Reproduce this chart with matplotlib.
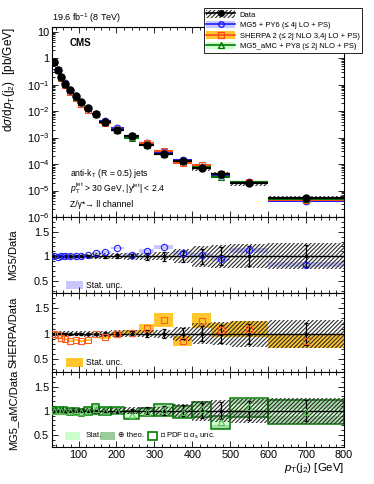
import numpy as np
import matplotlib
matplotlib.use("Agg")
import matplotlib.pyplot as plt
from matplotlib.patches import Patch, Rectangle
from matplotlib.lines import Line2D
from matplotlib.ticker import MultipleLocator, FixedLocator, FixedFormatter, LogLocator, NullFormatter

plt.rcParams['font.family'] = ['Liberation Sans', 'DejaVu Sans']
plt.rcParams['mathtext.fontset'] = 'custom'
plt.rcParams['mathtext.rm'] = 'Liberation Sans'
plt.rcParams['mathtext.it'] = 'Liberation Sans:italic'
plt.rcParams['mathtext.bf'] = 'Liberation Sans:bold'
plt.rcParams['hatch.linewidth'] = 0.8

# ---- data ----
edges = [30, 40, 50, 60, 70, 85, 100, 115, 135, 155, 185, 220, 260, 300, 350, 400, 450, 500, 600, 800]
xsec = [0.73, 0.355, 0.20, 0.11, 0.062, 0.036, 0.022, 0.0126, 0.0076, 0.0039, 0.0020, 0.0011,
        5.4e-4, 2.4e-4, 1.3e-4, 7.2e-5, 4.1e-5, 1.9e-5, 5.0e-6]
data_sys = [0.05, 0.05, 0.05, 0.05, 0.05, 0.05, 0.05, 0.055, 0.06, 0.06, 0.065, 0.07,
            0.07, 0.08, 0.14, 0.21, 0.23, 0.25, 0.27]
data_stat = [0.01, 0.01, 0.01, 0.01, 0.01, 0.012, 0.015, 0.02, 0.025, 0.03, 0.04, 0.045,
             0.07, 0.09, 0.11, 0.15, 0.18, 0.2, 0.22]

mg5_ratio = [1.00, 0.99, 1.00, 1.01, 1.01, 1.01, 1.01, 1.02, 1.06, 1.08, 1.17, 1.03,
             1.11, 1.18, 1.07, 1.03, 0.95, 1.12, 0.83]
mg5_stat = [0.01, 0.01, 0.01, 0.01, 0.01, 0.01, 0.012, 0.015, 0.02, 0.02, 0.025, 0.03,
            0.035, 0.04, 0.04, 0.04, 0.04, 0.045, 0.05]

sherpa_ratio = [1.00, 0.97, 0.92, 0.90, 0.86, 0.87, 0.86, 0.88, 1.00, 0.93, 1.00, 1.02,
                1.11, 1.27, 0.86, 1.26, 1.07, 1.09, 0.86]
sherpa_stat = [0.01, 0.01, 0.01, 0.015, 0.015, 0.02, 0.02, 0.02, 0.025, 0.03, 0.04, 0.045,
               0.085, 0.13, 0.1, 0.15, 0.14, 0.16, 0.14]

amc_ratio = [1.00, 1.01, 1.00, 1.00, 0.99, 0.98, 0.97, 1.00, 1.03, 1.00, 1.00, 0.91,
             0.97, 1.01, 0.97, 1.03, 0.76, 1.07, 0.97]
amc_tot = [0.07, 0.07, 0.07, 0.07, 0.07, 0.07, 0.07, 0.08, 0.1, 0.085, 0.075, 0.09,
           0.085, 0.12, 0.12, 0.15, 0.14, 0.19, 0.25]
amc_stat = [0.015, 0.015, 0.015, 0.015, 0.015, 0.015, 0.02, 0.02, 0.025, 0.025, 0.03, 0.03,
            0.035, 0.04, 0.045, 0.05, 0.06, 0.06, 0.07]

edges = np.array(edges, float)
lo, hi = edges[:-1], edges[1:]
cen = 0.5 * (lo + hi)
wid = hi - lo
xsec = np.array(xsec)

BLUE, BLUE_BAND = '#1f1fff', '#c8c8ff'
ORANGE_LINE, ORANGE_BAND, SQ = '#ff4a1a', '#ffc62e', '#ff5a1f'
GREEN, GREEN_LIGHT, GREEN_THEO, GREEN_MK = '#007a00', '#ccffcc', '#a8dca8', '#55bb55'
HATCH = '////////'
HCOL = '#2a2a2a'

W, H = 374, 484
fig = plt.figure(figsize=(W / 100, H / 100), dpi=100)
L, R = 52 / W, 344 / W


def rect(top, bot):
    return [L, 1 - bot / H, R - L, (bot - top) / H]


ax0 = fig.add_axes(rect(27, 217))
ax1 = fig.add_axes(rect(217, 293))
ax2 = fig.add_axes(rect(293, 372))
ax3 = fig.add_axes(rect(372, 447))

for ax in (ax0, ax1, ax2, ax3):
    ax.set_xlim(30, 800)
    ax.tick_params(which='both', direction='in', top=True, right=True, labelsize=7.8, pad=2)
    ax.tick_params(which='major', length=4.5, width=0.6)
    ax.tick_params(which='minor', length=2.5, width=0.6)
    ax.xaxis.set_major_locator(MultipleLocator(100))
    ax.xaxis.set_minor_locator(MultipleLocator(20))
    for s in ax.spines.values():
        s.set_linewidth(0.8)

# ---- main panel ----
ax0.set_yscale('log')
ax0.set_ylim(1e-6, 15)
ax0.bar(cen, 2 * np.array(data_sys) * xsec, bottom=xsec * (1 - np.array(data_sys)), width=wid,
        fill=False, hatch=HATCH, edgecolor=HCOL, linewidth=0, zorder=1)
for ratio, col, mk in ((mg5_ratio, BLUE, 'o'), (sherpa_ratio, ORANGE_LINE, 's'), (amc_ratio, GREEN, '^')):
    pred = xsec * np.array(ratio)
    ax0.hlines(pred, lo, hi, color=col, lw=1.5, zorder=2)
    ax0.plot(cen, pred, ls='none', marker=mk, ms=4.8, mfc='none', mec=col, mew=0.8, zorder=2)
ax0.errorbar(cen, xsec, xerr=wid / 2, fmt='o', color='black', ms=5, elinewidth=1.5, zorder=3)
ax0.yaxis.set_major_locator(FixedLocator([10.0 ** k for k in range(-6, 2)]))
ax0.yaxis.set_major_formatter(FixedFormatter(['$10^{-6}$', '$10^{-5}$', '$10^{-4}$', '$10^{-3}$',
                                              '$10^{-2}$', '$10^{-1}$', '1', '10']))
ax0.yaxis.set_minor_locator(LogLocator(base=10, subs=np.arange(2, 10), numticks=20))
ax0.yaxis.set_minor_formatter(NullFormatter())
ax0.set_xticklabels([])
ax0.set_ylabel(r'd$\sigma$/d$p_{\rm T}$(j$_2$)  [pb/GeV]', fontsize=8.5, loc='top')
ax0.yaxis.set_label_coords(-0.12, 1.0)

ax0.text(0.06, 0.94, 'CMS', transform=ax0.transAxes, fontsize=7, fontweight='bold', va='top')
ax0.text(0.0, 1.012, r'19.6 fb$^{-1}$ (8 TeV)', transform=ax0.transAxes, fontsize=6.5, va='bottom')
ax0.text(0.06, 0.215, r'anti-k$_{\rm T}$ (R = 0.5) jets', transform=ax0.transAxes, fontsize=6.2)
ax0.text(0.06, 0.135, r'$p_{\rm T}^{\rm jet}$ > 30 GeV, |y$^{\rm jet}$| < 2.4',
         transform=ax0.transAxes, fontsize=6.2)
ax0.text(0.06, 0.055, 'Z/γ*→ ll channel', transform=ax0.transAxes, fontsize=6.2)


def ratio_base(ax):
    ax.set_ylim(0.25, 1.8)
    ax.yaxis.set_major_locator(FixedLocator([0.5, 1.0, 1.5]))
    ax.yaxis.set_major_formatter(FixedFormatter(['0.5', '1', '1.5']))
    ax.yaxis.set_minor_locator(MultipleLocator(0.1))


def data_overlay(ax):
    s = np.array(data_sys)
    ax.bar(cen, 2 * s, bottom=1 - s, width=wid, fill=False, hatch=HATCH,
           edgecolor=HCOL, linewidth=0, zorder=4)
    ax.axhline(1.0, color='black', lw=1.0, zorder=5)
    ax.errorbar(cen, np.ones_like(cen), yerr=data_stat, fmt='o', color='black', ms=1.5,
                elinewidth=0.9, capsize=1.5, capthick=0.9, zorder=6)


# ---- MG5 ratio ----
ratio_base(ax1)
r = np.array(mg5_ratio); e = np.array(mg5_stat)
ax1.bar(cen, 2 * e, bottom=r - e, width=wid, color=BLUE_BAND, linewidth=0, zorder=2)
data_overlay(ax1)
ax1.plot(cen, r, ls='none', marker='o', ms=4.5, mfc='none', mec=BLUE, mew=0.8, zorder=7)
ax1.set_xticklabels([])
ax1.set_ylabel('MG5/Data', fontsize=8.0)
ax1.add_patch(Rectangle((0.047, 0.05), 0.058, 0.112, transform=ax1.transAxes, color=BLUE_BAND, lw=0))
ax1.text(0.118, 0.105, 'Stat. unc.', transform=ax1.transAxes, fontsize=6.2, va='center')

# ---- SHERPA ratio ----
ratio_base(ax2)
r = np.array(sherpa_ratio); e = np.array(sherpa_stat)
ax2.bar(cen, 2 * e, bottom=r - e, width=wid, color=ORANGE_BAND, linewidth=0, zorder=2)
data_overlay(ax2)
ax2.plot(cen, r, ls='none', marker='s', ms=4.2, mfc='none', mec=SQ, mew=0.8, zorder=7)
ax2.set_xticklabels([])
ax2.set_ylabel('SHERPA/Data', fontsize=8.0)
ax2.add_patch(Rectangle((0.047, 0.063), 0.058, 0.114, transform=ax2.transAxes, color=ORANGE_BAND, lw=0))
ax2.text(0.118, 0.12, 'Stat. unc.', transform=ax2.transAxes, fontsize=6.2, va='center')

# ---- MG5_aMC ratio ----
ratio_base(ax3)
r = np.array(amc_ratio); t = np.array(amc_tot); st = np.array(amc_stat)
ax3.bar(cen, 2 * t * 0.92, bottom=r - t * 0.92, width=wid, color=GREEN_THEO, linewidth=0, zorder=1)
ax3.bar(cen, 2 * st, bottom=r - st, width=wid, color=GREEN_LIGHT, linewidth=0, zorder=2)
ax3.bar(cen, 2 * t, bottom=r - t, width=wid, fill=False, edgecolor=GREEN, linewidth=1.1, zorder=3)
data_overlay(ax3)
ax3.plot(cen, r, ls='none', marker='^', ms=4.2, mfc='none', mec=GREEN_MK, mew=0.8, zorder=7)
ax3.set_ylabel('MG5_aMC/Data', fontsize=8.0)
ax3.set_xlabel(r'$p_{\rm T}$(j$_2$) [GeV]', fontsize=8.2, loc='right', labelpad=1)
ax3.add_patch(Rectangle((0.045, 0.093), 0.05, 0.11, transform=ax3.transAxes, color=GREEN_LIGHT, lw=0))
ax3.text(0.115, 0.148, 'Stat.', transform=ax3.transAxes, fontsize=5.6, va='center')
ax3.add_patch(Rectangle((0.164, 0.093), 0.052, 0.11, transform=ax3.transAxes, color='#99cc99', lw=0))
ax3.text(0.226, 0.148, '⊕ theo.', transform=ax3.transAxes, fontsize=5.6, va='center')
ax3.add_patch(Rectangle((0.329, 0.093), 0.031, 0.11, transform=ax3.transAxes, fill=False,
                        edgecolor=GREEN, lw=1.2))
ax3.text(0.37, 0.148, r'⊕ PDF ⊕ $\alpha_{\rm s}$ unc.', transform=ax3.transAxes, fontsize=5.6, va='center')

for ax in (ax1, ax2, ax3):
    ax.yaxis.set_label_coords(-0.115, 0.5)

# ---- legend ----
h_data = (Patch(facecolor='white', edgecolor=HCOL, hatch=HATCH, lw=0),
          Line2D([], [], color='black', marker='o', ms=4, lw=1.2))
h_mg5 = (Patch(facecolor=BLUE_BAND, lw=0), Line2D([], [], color=BLUE, marker='o', ms=4, mfc='none', lw=1.2))
h_sh = (Patch(facecolor=ORANGE_BAND, lw=0), Line2D([], [], color=ORANGE_LINE, marker='s', ms=3.8, mfc='none', lw=1.2))
h_amc = (Patch(facecolor=GREEN_LIGHT, lw=0), Line2D([], [], color=GREEN, marker='^', ms=3.8, mfc='none', lw=1.2))
leg = fig.legend([h_data, h_mg5, h_sh, h_amc],
                 ['Data', 'MG5 + PY6 (≤ 4j LO + PS)', 'SHERPA 2 (≤ 2j NLO 3,4j LO + PS)',
                  'MG5_aMC + PY8 (≤ 2j NLO + PS)'],
                 loc='upper right', bbox_to_anchor=(362 / W, 1 - 8 / H), fontsize=5.5,
                 frameon=True, fancybox=False, edgecolor='black', framealpha=1,
                 handlelength=3.8, handleheight=1.1, labelspacing=0.3, borderpad=0.3,
                 handletextpad=0.6, borderaxespad=0)
leg.get_frame().set_linewidth(0.6)

fig.savefig('out.png', dpi=100)
